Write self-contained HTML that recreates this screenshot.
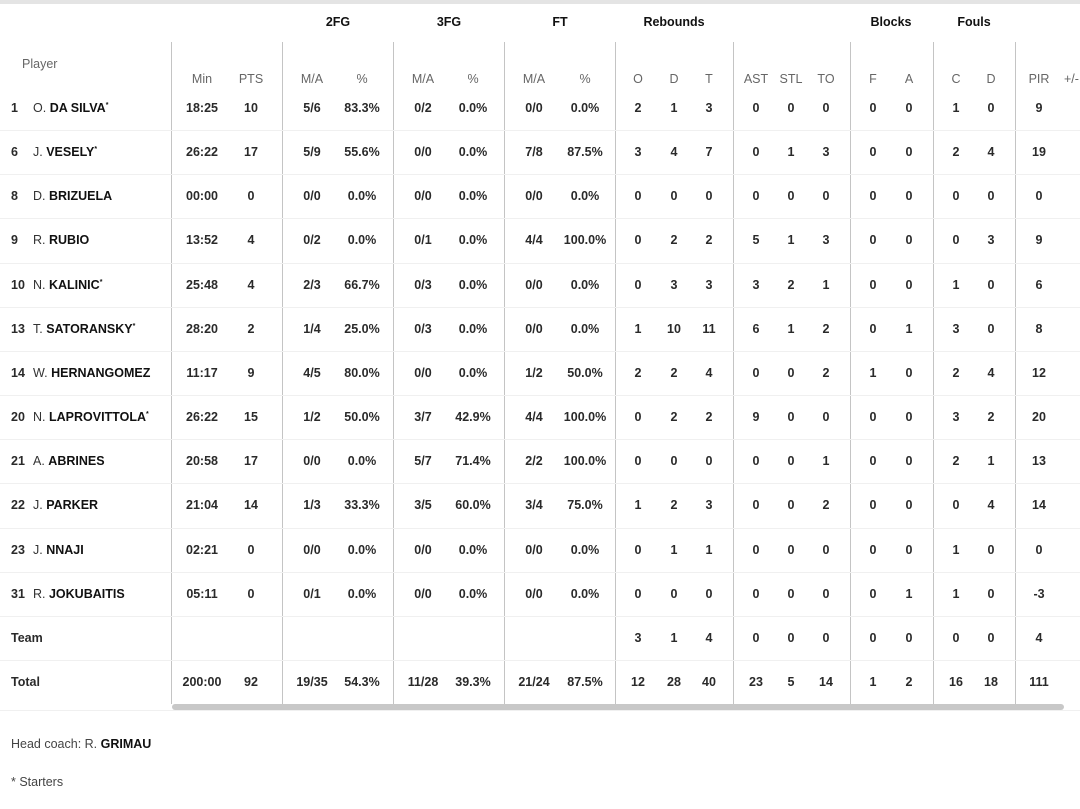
<!DOCTYPE html>
<html><head><meta charset="utf-8"><style>
body{margin:0;width:1080px;height:809px;background:#fff;font-family:"Liberation Sans",sans-serif;position:relative;overflow:hidden;color:#111}
.a{position:absolute;white-space:nowrap;font-size:12.5px;transform:translate(-50%,-50%)}
.l{position:absolute;white-space:nowrap;font-size:12.5px;transform:translateY(-50%)}
.h{color:#666;font-weight:normal}
.g{font-weight:bold}
.d{font-weight:bold;color:#2a2a2a}
.v{position:absolute;width:1px;background:#c4c4c4;top:42px;height:662px}
.s{position:absolute;left:0;width:1080px;height:1px;background:#f0f0f0}
</style></head><body>
<div style="position:absolute;left:0;top:0;width:1080px;height:4px;background:#e4e4e4"></div>
<div id="c"></div>
<script>
var c=document.getElementById('c'),h='';
function A(x,y,t,cl){h+='<div class="a '+cl+'" style="left:'+x+'px;top:'+y+'px">'+t+'</div>';}
function L(x,y,t,cl){h+='<div class="l '+cl+'" style="left:'+x+'px;top:'+y+'px">'+t+'</div>';}
[171,282,393,504,615,733,850,933,1015].forEach(function(x){h+='<div class="v" style="left:'+x+'px"></div>';});
[['2FG',338],['3FG',449],['FT',560],['Rebounds',674],['Blocks',891],['Fouls',974]].forEach(function(g){A(g[1],22,g[0],'g');});
L(22,64,'Player','h');
var xs=[202,251,312,362,423,473,534,585,638,674,709,756,791,826,873,909,956,991,1039];
var hd=['Min','PTS','M/A','%','M/A','%','M/A','%','O','D','T','AST','STL','TO','F','A','C','D','PIR'];
hd.forEach(function(t,i){A(xs[i],79,t,'h');});
L(1064,79,'+/-','h');
var rows=[
['1','O.','DA SILVA*','18:25 10 5/6 83.3% 0/2 0.0% 0/0 0.0% 2 1 3 0 0 0 0 0 1 0 9'],
['6','J.','VESELY*','26:22 17 5/9 55.6% 0/0 0.0% 7/8 87.5% 3 4 7 0 1 3 0 0 2 4 19'],
['8','D.','BRIZUELA','00:00 0 0/0 0.0% 0/0 0.0% 0/0 0.0% 0 0 0 0 0 0 0 0 0 0 0'],
['9','R.','RUBIO','13:52 4 0/2 0.0% 0/1 0.0% 4/4 100.0% 0 2 2 5 1 3 0 0 0 3 9'],
['10','N.','KALINIC*','25:48 4 2/3 66.7% 0/3 0.0% 0/0 0.0% 0 3 3 3 2 1 0 0 1 0 6'],
['13','T.','SATORANSKY*','28:20 2 1/4 25.0% 0/3 0.0% 0/0 0.0% 1 10 11 6 1 2 0 1 3 0 8'],
['14','W.','HERNANGOMEZ','11:17 9 4/5 80.0% 0/0 0.0% 1/2 50.0% 2 2 4 0 0 2 1 0 2 4 12'],
['20','N.','LAPROVITTOLA*','26:22 15 1/2 50.0% 3/7 42.9% 4/4 100.0% 0 2 2 9 0 0 0 0 3 2 20'],
['21','A.','ABRINES','20:58 17 0/0 0.0% 5/7 71.4% 2/2 100.0% 0 0 0 0 0 1 0 0 2 1 13'],
['22','J.','PARKER','21:04 14 1/3 33.3% 3/5 60.0% 3/4 75.0% 1 2 3 0 0 2 0 0 0 4 14'],
['23','J.','NNAJI','02:21 0 0/0 0.0% 0/0 0.0% 0/0 0.0% 0 1 1 0 0 0 0 0 1 0 0'],
['31','R.','JOKUBAITIS','05:11 0 0/1 0.0% 0/0 0.0% 0/0 0.0% 0 0 0 0 0 0 0 1 1 0 -3'],
['','','Team','_ _ _ _ _ _ _ _ 3 1 4 0 0 0 0 0 0 0 4'],
['','','Total','200:00 92 19/35 54.3% 11/28 39.3% 21/24 87.5% 12 28 40 23 5 14 1 2 16 18 111']];
rows.forEach(function(r,i){
 var y=Math.round(108+i*44.15);
 if(i>0)h+='<div class="s" style="top:'+(y-22)+'px"></div>';
 if(r[0]){L(11,y,r[0],'d');
  var n=r[2].replace('*','<sup style="font-size:7px">*</sup>');
  L(33,y,'<span style="color:#333;font-weight:normal">'+r[1]+'</span> <b>'+n+'</b>','');}
 else L(11,y,r[2],'d');
 r[3].split(' ').forEach(function(t,j){if(t!='_')A(xs[j],y,t,'d');});
});
h+='<div class="s" style="top:710px"></div>';
h+='<div style="position:absolute;left:172px;top:704px;width:892px;height:6px;background:#c8c8c8;border-radius:3px"></div>';
L(11,744,'<span style="color:#444">Head coach: R. </span><b>GRIMAU</b>','');
L(11,782,'<span style="color:#444">* Starters</span>','');
c.innerHTML=h;
</script>
</body></html>
